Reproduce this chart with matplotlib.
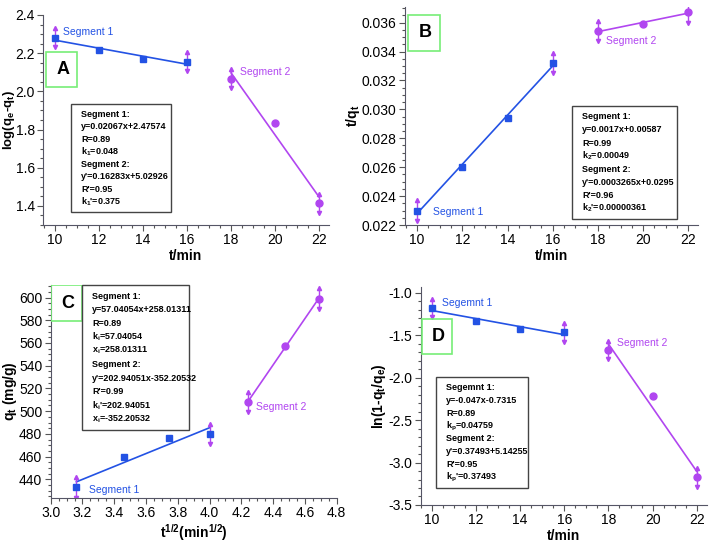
import matplotlib
matplotlib.use("Agg")
import matplotlib.pyplot as plt
from matplotlib.patches import Rectangle
import numpy as np

plt.rcParams['font.family'] = ['Liberation Sans', 'DejaVu Sans']
plt.rcParams['mathtext.fontset'] = 'custom'
plt.rcParams['mathtext.rm'] = 'Liberation Sans'
plt.rcParams['mathtext.it'] = 'Liberation Sans'
plt.rcParams['mathtext.bf'] = 'Liberation Sans:bold'
plt.rcParams['mathtext.default'] = 'bf'
plt.rcParams['axes.unicode_minus'] = False

BLUE = '#2352e4'
VIOLET = '#b146f0'

# ---- data ----
t1 = [10, 12, 14, 16]
t2 = [18, 20, 22]
sqrt_t1 = [3.162, 3.464, 3.742, 4.000]
sqrt_t2 = [4.243, 4.472, 4.690]

# A: pseudo first order
a_y1 = [2.280, 2.215, 2.170, 2.155]
a_y2 = [2.065, 1.835, 1.415]
a_err = 0.05
# B: pseudo second order
b_y1 = [0.02300, 0.02603, 0.02937, 0.03322]
b_y2 = [0.03542, 0.03592, 0.03670]
b_err = 0.0007
# C: intraparticle diffusion
c_y1 = [433, 460, 476, 480]
c_y2 = [508, 557, 599]
c_err = 9
# D: liquid film diffusion
d_y1 = [-1.180, -1.335, -1.430, -1.465]
d_y2 = [-1.675, -2.215, -3.175]
d_err = 0.11

a_text = ["Segment 1:", "y=0.02067x+2.47574", "R=0.89", "k$_1$=0.048",
          "Segment 2:", "y'=0.16283x+5.02926", "R'=0.95", "k$_1$'=0.375"]
b_text = ["Segment 1:", "y=0.0017x+0.00587", "R=0.99", "k$_2$=0.00049",
          "Segment 2:", "y'=0.0003265x+0.0295", "R'=0.96", "k$_2$'=0.00000361"]
c_text = ["Segment 1:", "y=57.04054x+258.01311", "R=0.89", "k$_i$=57.04054",
          "x$_i$=258.01311", "Segment 2:", "y'=202.94051x-352.20532", "R'=0.99",
          "k$_i$'=202.94051", "x$_i$=-352.20532"]
d_text = ["Segemnt 1:", "y=-0.047x-0.7315", "R=0.89", "k$_p$=0.04759",
          "Segment 2:", "y'=0.37493+5.14255", "R'=0.95", "k$_p$'=0.37493"]


def panel(ax, x1, y1, x2, y2, err, xlim, ylim, xticks, yticks, xlabel, ylabel,
          letter, letter_box, seg_labels, seg1_name, box, lines):
    # fitted lines
    for xs, ys, c in [(x1, y1, BLUE), (x2, y2, VIOLET)]:
        k, b = np.polyfit(xs, ys, 1)
        xx = np.array([xs[0], xs[-1]])
        ax.plot(xx, k * xx + b, color=c, lw=1.2, zorder=2)
    ax.plot(x1, y1, 's', color=BLUE, ms=5, zorder=3)
    ax.plot(x2, y2, 'o', color=VIOLET, ms=5, zorder=3)
    # end point error bars with arrow caps
    ex = [x1[0], x1[-1], x2[0], x2[-1]]
    ey = [y1[0], y1[-1], y2[0], y2[-1]]
    for xe, ye in zip(ex, ey):
        ax.plot([xe, xe], [ye - err, ye + err], color=VIOLET, lw=1.0, zorder=2)
        ax.plot(xe, ye + err, '^', color=VIOLET, ms=3, zorder=2)
        ax.plot(xe, ye - err, 'v', color=VIOLET, ms=3, zorder=2)

    ax.set_xlim(*xlim)
    ax.set_ylim(*ylim)
    ax.set_xticks(xticks)
    ax.set_yticks(yticks)
    ax.minorticks_on()
    ax.tick_params(which='major', length=4, width=0.8, labelsize=10, pad=2,
                   color='#555555')
    ax.tick_params(which='minor', length=2, width=0.8, color='#555555')
    for s in ['top', 'right']:
        ax.spines[s].set_visible(False)
    for s in ['left', 'bottom']:
        ax.spines[s].set_color('#555566')
    ax.set_xlabel(xlabel, fontsize=10, fontweight='bold', labelpad=1)
    ax.set_ylabel(ylabel, fontsize=10, fontweight='bold', labelpad=0)

    # green letter box
    lx0, ly0, lx1, ly1 = letter_box
    ax.add_patch(Rectangle((lx0, ly0), lx1 - lx0, ly1 - ly0, transform=ax.transAxes,
                           fill=False, ec='#77ee77', lw=1.2, zorder=4))
    ax.text((lx0 + lx1) / 2 + 0.005, (ly0 + ly1) / 2, letter, transform=ax.transAxes,
            ha='center', va='center', fontsize=13, fontweight='bold')

    # segment labels
    (s1x, s1y), (s2x, s2y) = seg_labels
    ax.text(s1x, s1y, seg1_name, transform=ax.transAxes, color=BLUE, fontsize=7.5,
            va='center')
    ax.text(s2x, s2y, 'Segment 2', transform=ax.transAxes, color=VIOLET, fontsize=7.5,
            va='center')

    # equation box
    bx0, by0, bx1, by1 = box
    ax.add_patch(Rectangle((bx0, by0), bx1 - bx0, by1 - by0, transform=ax.transAxes,
                           fill=True, fc='white', ec='#444444', lw=1.0, zorder=4,
                           clip_on=False))
    n = len(lines)
    step = (by1 - by0 - 0.04) / n
    for i, line in enumerate(lines):
        ax.text(bx0 + 0.035, by1 - 0.02 - step * (i + 0.5), line, transform=ax.transAxes,
                fontsize=6.5, fontweight='bold', va='center', zorder=5)


fig = plt.figure(figsize=(7.09, 5.43), dpi=100)
axA = fig.add_axes([0.0606, 0.5856, 0.4034, 0.3868])
axB = fig.add_axes([0.5712, 0.5856, 0.4133, 0.4021])
axC = fig.add_axes([0.0715, 0.0829, 0.4034, 0.3922])
axD = fig.add_axes([0.5934, 0.0700, 0.4034, 0.4015])

panel(axA, t1, a_y1, t2, a_y2, a_err, (9.45, 22.45), (1.30, 2.40),
      [10, 12, 14, 16, 18, 20, 22], [1.4, 1.6, 1.8, 2.0, 2.2, 2.4],
      't/min', 'log(q$_\\mathregular{e}$-q$_\\mathregular{t}$)', 'A',
      (0.0105, 0.657, 0.119, 0.824), ((0.07, 0.919), (0.689, 0.729)), 'Segment 1',
      (0.098, 0.062, 0.448, 0.576), a_text)
axA.yaxis.label.set_fontsize(9.5)
axA.yaxis.set_label_coords(-0.092, 0.5)

panel(axB, t1, b_y1, t2, b_y2, b_err, (9.46, 22.43), (0.022, 0.0371),
      [10, 12, 14, 16, 18, 20, 22], [0.022, 0.024, 0.026, 0.028, 0.030, 0.032, 0.034, 0.036],
      't/min', 't/q$_\\mathregular{t}$', 'B',
      (0.010, 0.797, 0.119, 0.962), ((0.096, 0.060), (0.686, 0.843)), 'Segment 1',
      (0.570, 0.027, 0.928, 0.545), b_text)
axB.yaxis.set_major_formatter(matplotlib.ticker.FormatStrFormatter('%.3f'))

panel(axC, sqrt_t1, c_y1, sqrt_t2, c_y2, c_err, (3.0, 4.8), (423.6, 611),
      [3.0, 3.2, 3.4, 3.6, 3.8, 4.0, 4.2, 4.4, 4.6, 4.8], [440, 460, 480, 500, 520, 540, 560, 580, 600],
      't$^{1/2}$(min$^{1/2}$)', 'q$_\\mathregular{t}$ (mg/g)', 'C',
      (0.001, 0.831, 0.109, 1.0), ((0.134, 0.038), (0.718, 0.427)), 'Segment 1',
      (0.109, 0.319, 0.484, 1.0), c_text)
axC.xaxis.set_major_formatter(matplotlib.ticker.FormatStrFormatter('%.1f'))

panel(axD, t1, d_y1, t2, d_y2, d_err, (9.5, 22.45), (-3.5, -0.933),
      [10, 12, 14, 16, 18, 20, 22], [-3.5, -3.0, -2.5, -2.0, -1.5, -1.0],
      't/min', 'ln(1-q$_\\mathregular{t}$/q$_\\mathregular{e}$)', 'D',
      (0.005, 0.693, 0.109, 0.853), ((0.075, 0.927), (0.686, 0.743)), 'Segemnt 1',
      (0.053, 0.078, 0.375, 0.587), d_text)

fig.savefig('out.png', dpi=100)
